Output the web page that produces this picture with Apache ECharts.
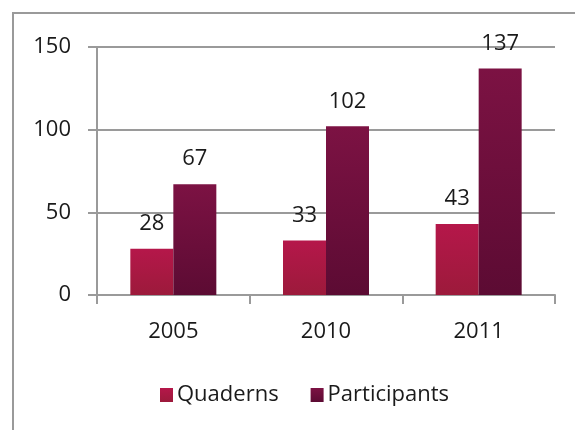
<!DOCTYPE html>
<html><head><meta charset="utf-8">
<script src="https://cdn.jsdelivr.net/npm/echarts@6/dist/echarts.min.js"></script>
<style>html,body{margin:0;padding:0;background:#fff}#c{width:575px;height:430px}</style>
</head><body><div id="c"></div>
<script>
const categories = ['2005', '2010', '2011'];
const quaderns = [28, 33, 43];
const participants = [67, 102, 137];
const yTicks = { min: 0, max: 150, interval: 50 };

const FONT = '"Open Sans", "Liberation Sans", sans-serif';
const chart = echarts.init(document.getElementById('c'), null, { renderer: 'canvas' });
function grad(top, bottom) {
  return new echarts.graphic.LinearGradient(0, 0, 0, 1, [
    { offset: 0, color: top }, { offset: 1, color: bottom }
  ]);
}
chart.setOption({
  animation: false,
  backgroundColor: '#fff',
  graphic: [{
    type: 'polyline',
    shape: { points: [[13, 430], [13, 13], [575, 13]] },
    style: { stroke: '#9a9a9a', lineWidth: 2, fill: null }
  }],
  grid: { left: 97, right: 20, top: 47, bottom: 135, containLabel: false },
  legend: {
    bottom: 19, left: 155,
    itemWidth: 13, itemHeight: 14, itemGap: 32, itemStyle: { borderWidth: 0 },
    icon: 'rect',
    textStyle: { fontFamily: FONT, fontSize: 22, color: '#1a1a1a', padding: [0, 0, 0, -1] },
    data: ['Quaderns', 'Participants']
  },
  xAxis: {
    type: 'category', data: categories,
    axisLine: { lineStyle: { color: '#9a9a9a', width: 2 } },
    axisTick: { show: true, length: 9, lineStyle: { color: '#9a9a9a', width: 2 } },
    axisLabel: { fontFamily: FONT, fontSize: 22, color: '#1a1a1a', margin: 26 }
  },
  yAxis: {
    type: 'value', min: yTicks.min, max: yTicks.max, interval: yTicks.interval,
    axisLine: { show: true, lineStyle: { color: '#9a9a9a', width: 2 } },
    axisTick: { show: true, length: 9, lineStyle: { color: '#9a9a9a', width: 2 } },
    splitLine: { lineStyle: { color: '#9a9a9a', width: 2 } },
    axisLabel: { fontFamily: FONT, fontSize: 22, color: '#1a1a1a', margin: 26 }
  },
  series: [{
    name: 'Quaderns', type: 'bar', data: quaderns, barWidth: 43, barGap: '0%',
    itemStyle: { color: grad('#b5174a', '#9c1a3b') },
    label: { show: true, position: 'top', distance: 14, fontFamily: FONT, fontSize: 22, color: '#1a1a1a' }
  }, {
    name: 'Participants', type: 'bar', data: participants, barWidth: 43, barGap: '0%',
    itemStyle: { color: grad('#7c1243', '#5c0b33') },
    label: { show: true, position: 'top', distance: 14, fontFamily: FONT, fontSize: 22, color: '#1a1a1a' }
  }]
});
</script></body></html>
